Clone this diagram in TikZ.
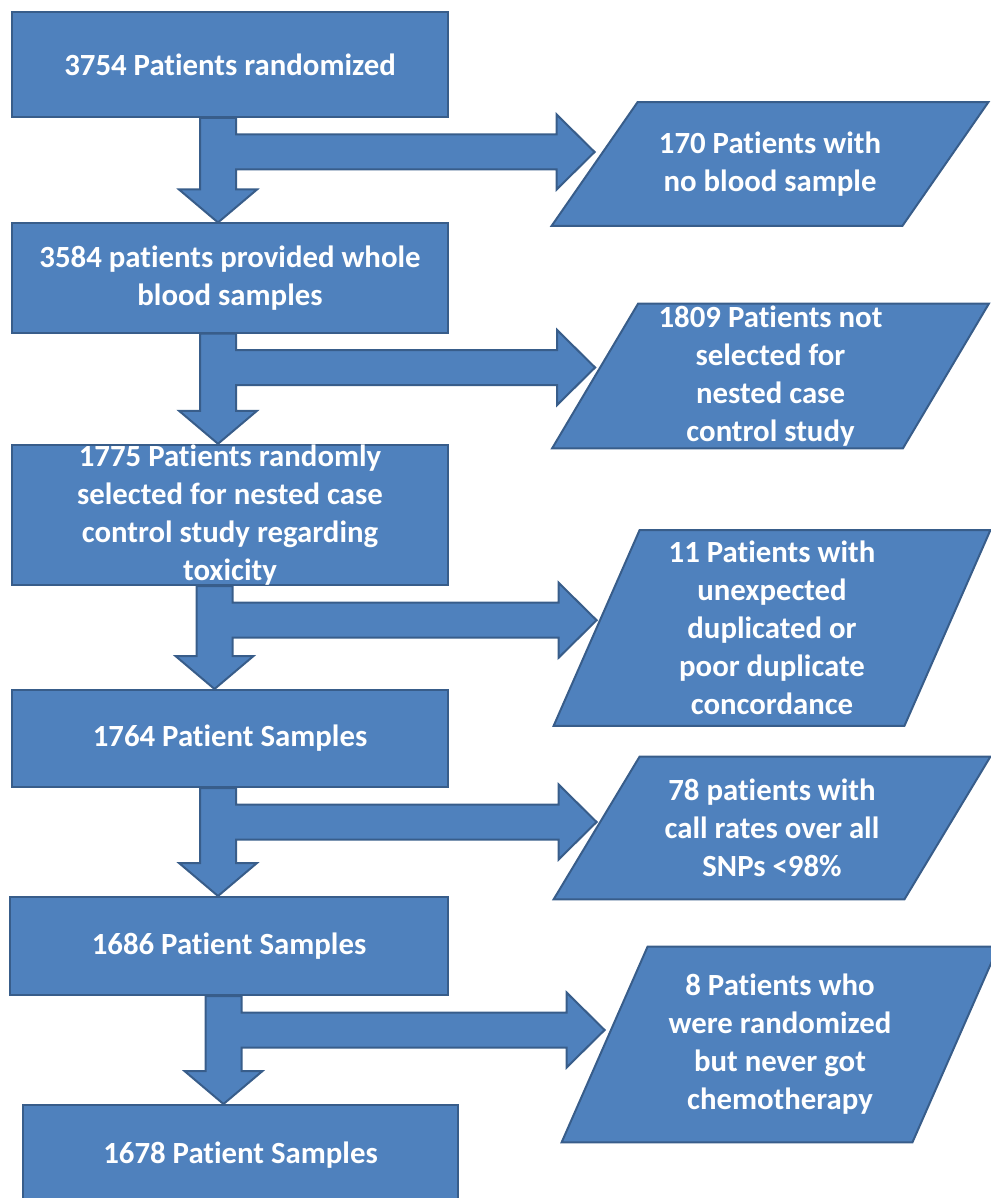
\documentclass[tikz,border=0pt]{standalone}
\usepackage{fontspec}
\setmainfont{Carlito}[RawFeature=-liga]
\usetikzlibrary{calc,backgrounds}
\definecolor{boxblue}{RGB}{79,129,189}
\definecolor{edgeblue}{RGB}{56,93,138}
% fat T-shaped arrow: upper box, lower box, side box, shift of the shaft
\newcommand{\flowarrow}[4]{%
  \filldraw[slab] let \p1=([xshift=#4]#1.south), \p2=(#2.north), \p3=(#3.west) in
    (\x1-9pt,\y1) -- (\x1+9pt,\y1) -- (\x1+9pt,\y1-8.25pt)
    -- (\x3-19pt,\y1-8.25pt) -- (\x3-19pt,\y1+1.75pt) -- (\x3,\y1-17pt)
    -- (\x3-19pt,\y1-35.75pt) -- (\x3-19pt,\y1-25.75pt) -- (\x1+9pt,\y1-25.75pt)
    -- (\x1+9pt,\y2+16.5pt) -- (\x1+19.5pt,\y2+16.5pt) -- (\x1,\y2)
    -- (\x1-19.5pt,\y2+16.5pt) -- (\x1-9pt,\y2+16.5pt) -- cycle;}
\begin{document}
\begin{tikzpicture}
  [x=0.5pt, y=-0.5pt,
   stage/.style = {rectangle, fill=boxblue, draw=edgeblue, line width=1pt,
                   text=white, font=\bfseries\fontsize{15.4}{19}\selectfont,
                   align=center, inner sep=0pt, minimum width=218pt},
   outcome/.style = {rectangle, text=white,
                   font=\bfseries\fontsize{15.4}{19}\selectfont,
                   align=center, inner sep=0pt, minimum width=175pt},
   slab/.style = {fill=boxblue, draw=edgeblue, line width=1pt}]
  \path[use as bounding box, clip] (0,0) rectangle (990,1198);
  % main column
  \node[stage, minimum height=52.5pt] (b1) at (230,64.5) {3754 Patients randomized};
  \node[stage, minimum height=54.5pt] (b2) at (230,278) {3584 patients provided whole\\blood samples};
  \node[stage, minimum height=68.5pt] (b3) at (230,515) {1775 Patients randomly\\selected for nested case\\control study regarding\\toxicity};
  \node[stage, minimum height=48.5pt] (b4) at (230,738.5) {1764 Patient Samples};
  \node[stage, minimum height=49pt, minimum width=219pt] (b5) at (229,946) {1686 Patient Samples};
  \node[stage, minimum height=50pt, minimum width=217.5pt] (b6) at (240.5,1155) {1678 Patient Samples};
  % excluded patients
  \node[outcome, minimum height=61.5pt] (p1) at (770,164) {170 Patients with\\no blood sample};
  \node[outcome, minimum height=72pt] (p2) at (770.5,376) {1809 Patients not\\selected for\\nested case\\control study};
  \node[outcome, minimum height=97.5pt] (p3) at (772,628) {11 Patients with\\unexpected\\duplicated or\\poor duplicate\\concordance};
  \node[outcome, minimum height=71pt] (p4) at (772,828) {78 patients with\\call rates over all\\SNPs <98\%};
  \node[outcome, minimum height=97.5pt] (p5) at (780,1044.5) {8 Patients who\\were randomized\\but never got\\chemotherapy};
  \begin{scope}[on background layer]
    \foreach \n in {p1,p2,p3,p4,p5}
      \filldraw[slab] ([xshift=-21.5pt]\n.south west) -- ([xshift=-21.5pt]\n.south east)
        -- ([xshift=21.5pt]\n.north east) -- ([xshift=21.5pt]\n.north west) -- cycle;
    \flowarrow{b1}{b2}{p1}{-6pt}
    \flowarrow{b2}{b3}{p2}{-6pt}
    \flowarrow{b3}{b4}{p3}{-7.75pt}
    \flowarrow{b4}{b5}{p4}{-6pt}
    \flowarrow{b5}{b6}{p5}{-2.75pt}
  \end{scope}
\end{tikzpicture}
\end{document}
